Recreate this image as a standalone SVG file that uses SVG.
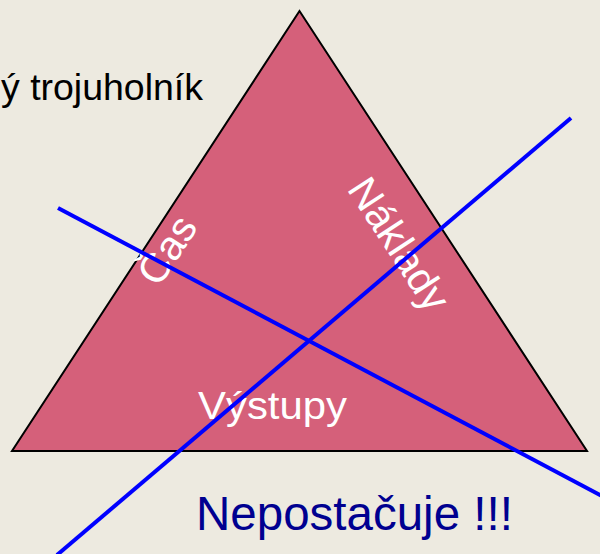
<svg xmlns="http://www.w3.org/2000/svg" width="600" height="554" viewBox="0 0 600 554">
<style>
.lbl{font-family:"Liberation Sans",Arial,sans-serif;fill:#ffffff}
.cross{stroke:#0000ff;stroke-width:4;fill:none}
</style>
<rect x="0" y="0" width="600" height="554" fill="#edeae0"/>
<text x="1" y="100" font-family="Liberation Sans, Arial, sans-serif" font-size="36" fill="#000000" textLength="202" lengthAdjust="spacingAndGlyphs">ý trojuholník</text>
<g id="triangle">
<polygon points="299.5,11 12,451 587,451" fill="#d5607a" stroke="#000000" stroke-width="2"/>
</g>
<g id="cas" transform="translate(167,250) rotate(-56.8)">
<text class="lbl" x="0" y="14" font-size="41" text-anchor="middle">Čas</text>
</g>
<g id="naklady" transform="translate(399,244) rotate(56.8)">
<text class="lbl" x="0" y="14" font-size="41" text-anchor="middle" textLength="150" lengthAdjust="spacingAndGlyphs">Náklady</text>
</g>
<g id="vystupy">
<text class="lbl" x="198" y="419" font-size="39" textLength="149" lengthAdjust="spacingAndGlyphs">Výstupy</text>
</g>
<g id="connectors">
<line class="cross" x1="58" y1="208" x2="602" y2="496"/>
<line class="cross" x1="571" y1="118" x2="57" y2="555"/>
</g>
<text x="196" y="530" font-family="Liberation Sans, Arial, sans-serif" font-size="47.5" fill="#000090">Nepostačuje !!!</text>
</svg>
